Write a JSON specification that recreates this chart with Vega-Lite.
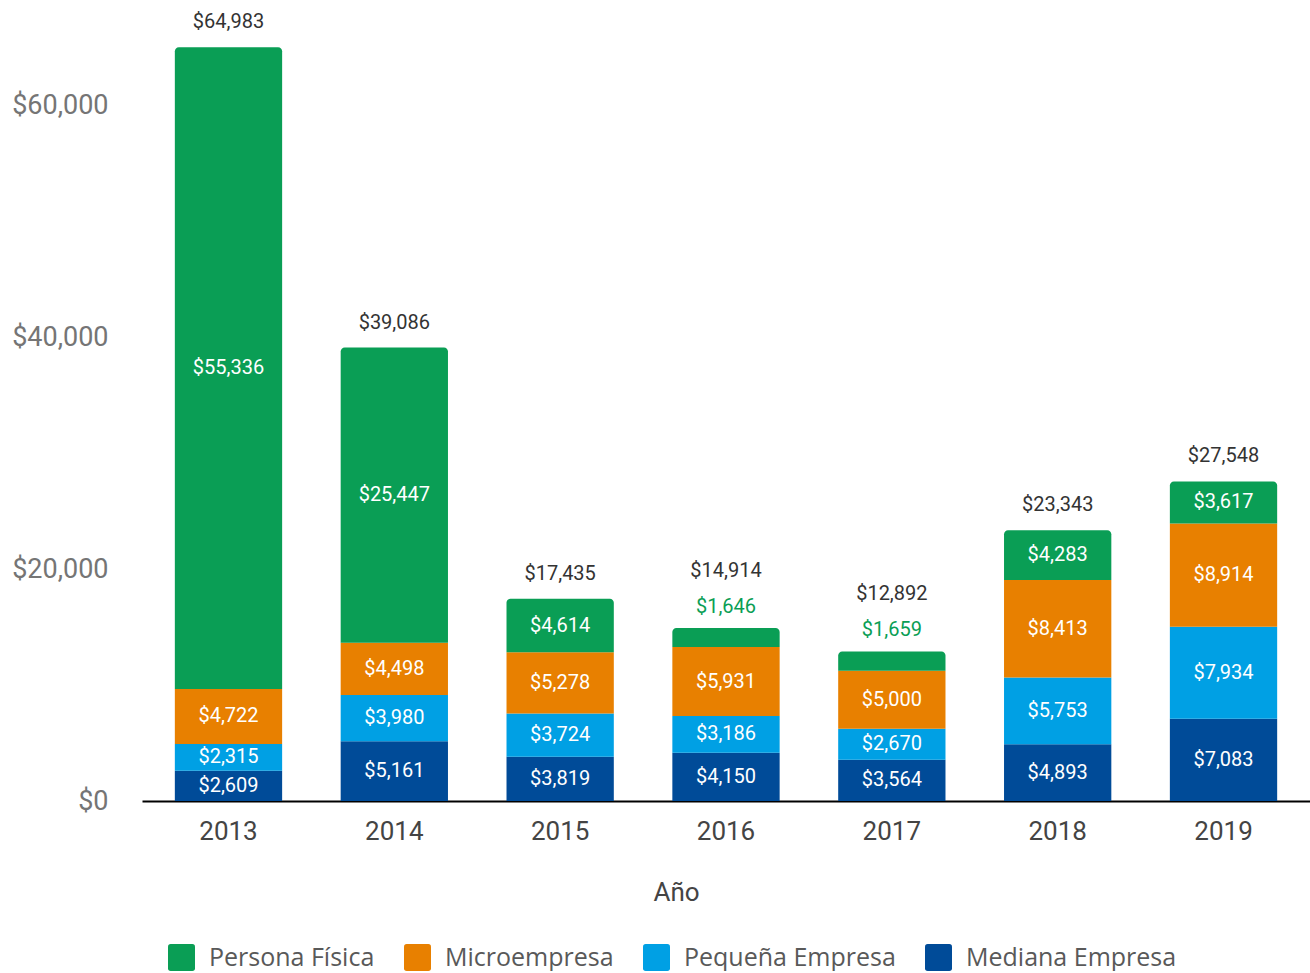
{
  "$schema": "https://vega.github.io/schema/vega-lite/v6.json",
  "width": 1168,
  "height": 791,
  "padding": {"left": 11, "top": 10, "right": 0, "bottom": 0},
  "datasets": {
    "segments": [
      {"year": "2013", "cat": "Mediana Empresa", "value": 2609},
      {"year": "2013", "cat": "Pequeña Empresa", "value": 2315},
      {"year": "2013", "cat": "Microempresa", "value": 4722},
      {"year": "2013", "cat": "Persona Física", "value": 55336},
      {"year": "2014", "cat": "Mediana Empresa", "value": 5161},
      {"year": "2014", "cat": "Pequeña Empresa", "value": 3980},
      {"year": "2014", "cat": "Microempresa", "value": 4498},
      {"year": "2014", "cat": "Persona Física", "value": 25447},
      {"year": "2015", "cat": "Mediana Empresa", "value": 3819},
      {"year": "2015", "cat": "Pequeña Empresa", "value": 3724},
      {"year": "2015", "cat": "Microempresa", "value": 5278},
      {"year": "2015", "cat": "Persona Física", "value": 4614},
      {"year": "2016", "cat": "Mediana Empresa", "value": 4150},
      {"year": "2016", "cat": "Pequeña Empresa", "value": 3186},
      {"year": "2016", "cat": "Microempresa", "value": 5931},
      {"year": "2016", "cat": "Persona Física", "value": 1646},
      {"year": "2017", "cat": "Mediana Empresa", "value": 3564},
      {"year": "2017", "cat": "Pequeña Empresa", "value": 2670},
      {"year": "2017", "cat": "Microempresa", "value": 5000},
      {"year": "2017", "cat": "Persona Física", "value": 1659},
      {"year": "2018", "cat": "Mediana Empresa", "value": 4893},
      {"year": "2018", "cat": "Pequeña Empresa", "value": 5753},
      {"year": "2018", "cat": "Microempresa", "value": 8413},
      {"year": "2018", "cat": "Persona Física", "value": 4283},
      {"year": "2019", "cat": "Mediana Empresa", "value": 7083},
      {"year": "2019", "cat": "Pequeña Empresa", "value": 7934},
      {"year": "2019", "cat": "Microempresa", "value": 8914},
      {"year": "2019", "cat": "Persona Física", "value": 3617}
    ],
    "totals": [
      {"year": "2013", "total": 64983},
      {"year": "2014", "total": 39086},
      {"year": "2015", "total": 17435},
      {"year": "2016", "total": 14914},
      {"year": "2017", "total": 12892},
      {"year": "2018", "total": 23343},
      {"year": "2019", "total": 27548}
    ]
  },
  "data": {"name": "segments"},
  "transform": [
    {"stack": "value", "groupby": ["year"], "sort": [{"field": "year"}], "as": ["s", "e"]}
  ],
  "encoding": {
    "x": {
      "field": "year",
      "type": "ordinal",
      "title": "Año",
      "scale": {"paddingInner": 0.353, "paddingOuter": 0.198},
      "axis": {"labelAngle": 0, "titleX": 534, "titleAlign": "center", "titleAnchor": null}
    }
  },
  "layer": [
    {
      "transform": [{"filter": "datum.cat !== 'Persona Física'"}],
      "mark": {"type": "bar"},
      "encoding": {
        "y": {
          "field": "e", "type": "quantitative", "title": null,
          "scale": {"domain": [0, 68190], "nice": false},
          "axis": {"values": [0, 20000, 40000, 60000], "format": "$,.0f", "grid": false, "domain": false, "ticks": false, "labelPadding": 34, "labelFontSize": 27, "labelColor": "#757575", "labelFont": "Roboto"}
        },
        "y2": {"field": "s"},
        "color": {
          "field": "cat", "type": "nominal",
          "scale": {
            "domain": ["Persona Física", "Microempresa", "Pequeña Empresa", "Mediana Empresa"],
            "range": ["#0a9e55", "#e88000", "#00a0e4", "#004b98"]
          },
          "legend": {
            "title": null, "orient": "none", "legendX": 26, "legendY": 934, "direction": "horizontal",
            "symbolType": "M -0.8,-1 L 0.8,-1 Q 1,-1 1,-0.8 L 1,0.8 Q 1,1 0.8,1 L -0.8,1 Q -1,1 -1,0.8 L -1,-0.8 Q -1,-1 -0.8,-1 Z",
            "symbolSize": 729, "symbolStrokeWidth": 0, "symbolOpacity": 1,
            "labelFontSize": 25, "labelFont": "Open Sans", "labelColor": "#595959", "labelLimit": 0,
            "labelOffset": 14, "columnPadding": 29, "padding": 0
          }
        }
      }
    },
    {
      "transform": [{"filter": "datum.cat === 'Persona Física'"}],
      "mark": {"type": "bar", "cornerRadiusTopLeft": 4, "cornerRadiusTopRight": 4},
      "encoding": {
        "y": {
          "field": "e", "type": "quantitative", "title": null,
          "scale": {"domain": [0, 68190], "nice": false},
          "axis": {"values": [0, 20000, 40000, 60000], "format": "$,.0f", "grid": false, "domain": false, "ticks": false, "labelPadding": 34, "labelFontSize": 27, "labelColor": "#757575", "labelFont": "Roboto"}
        },
        "y2": {"field": "s"},
        "color": {
          "field": "cat", "type": "nominal",
          "scale": {
            "domain": ["Persona Física", "Microempresa", "Pequeña Empresa", "Mediana Empresa"],
            "range": ["#0a9e55", "#e88000", "#00a0e4", "#004b98"]
          },
          "legend": {
            "title": null, "orient": "none", "legendX": 26, "legendY": 934, "direction": "horizontal",
            "symbolType": "M -0.8,-1 L 0.8,-1 Q 1,-1 1,-0.8 L 1,0.8 Q 1,1 0.8,1 L -0.8,1 Q -1,1 -1,0.8 L -1,-0.8 Q -1,-1 -0.8,-1 Z",
            "symbolSize": 729, "symbolStrokeWidth": 0, "symbolOpacity": 1,
            "labelFontSize": 25, "labelFont": "Open Sans", "labelColor": "#595959", "labelLimit": 0,
            "labelOffset": 14, "columnPadding": 29, "padding": 0
          }
        }
      }
    },
    {
      "transform": [
        {"filter": "datum.value >= 2000"},
        {"fold": ["s", "e"], "as": ["k", "v"]},
        {"aggregate": [{"op": "mean", "field": "v", "as": "mid"}, {"op": "max", "field": "value", "as": "value"}], "groupby": ["year", "cat"]}
      ],
      "mark": {"type": "text", "color": "#ffffff", "fontSize": 20, "baseline": "middle", "font": "Roboto"},
      "encoding": {
        "y": {"field": "mid", "type": "quantitative", "title": null, "scale": {"domain": [0, 68190], "nice": false}},
        "text": {"field": "value", "type": "quantitative", "format": "$,.0f"}
      }
    },
    {
      "transform": [{"filter": "datum.cat === 'Persona Física' && datum.value < 2000"}],
      "mark": {"type": "text", "color": "#0a9e55", "fontSize": 20, "baseline": "middle", "dy": -21, "font": "Roboto"},
      "encoding": {
        "y": {"field": "e", "type": "quantitative", "title": null, "scale": {"domain": [0, 68190], "nice": false}},
        "text": {"field": "value", "type": "quantitative", "format": "$,.0f"}
      }
    },
    {
      "transform": [
        {"filter": "datum.cat === 'Persona Física' && datum.value >= 2000"},
        {"lookup": "year", "from": {"data": {"name": "totals"}, "key": "year", "fields": ["total"]}}
      ],
      "mark": {"type": "text", "color": "#333333", "fontSize": 20, "baseline": "middle", "dy": -25, "font": "Roboto"},
      "encoding": {
        "y": {"field": "e", "type": "quantitative", "title": null, "scale": {"domain": [0, 68190], "nice": false}},
        "text": {"field": "total", "type": "quantitative", "format": "$,.0f"}
      }
    },
    {
      "transform": [
        {"filter": "datum.cat === 'Persona Física' && datum.value < 2000"},
        {"lookup": "year", "from": {"data": {"name": "totals"}, "key": "year", "fields": ["total"]}}
      ],
      "mark": {"type": "text", "color": "#333333", "fontSize": 20, "baseline": "middle", "dy": -57, "font": "Roboto"},
      "encoding": {
        "y": {"field": "e", "type": "quantitative", "title": null, "scale": {"domain": [0, 68190], "nice": false}},
        "text": {"field": "total", "type": "quantitative", "format": "$,.0f"}
      }
    }
  ],
  "config": {
    "font": "Roboto",
    "view": {"stroke": null},
    "axisX": {
      "domainColor": "#000000", "domainWidth": 2, "ticks": false,
      "labelFont": "Roboto", "labelFontSize": 26, "labelColor": "#444444", "labelPadding": 17,
      "titleFont": "Roboto", "titleFontSize": 26, "titleColor": "#444444", "titleFontWeight": "normal", "titlePadding": 35
    }
  }
}
